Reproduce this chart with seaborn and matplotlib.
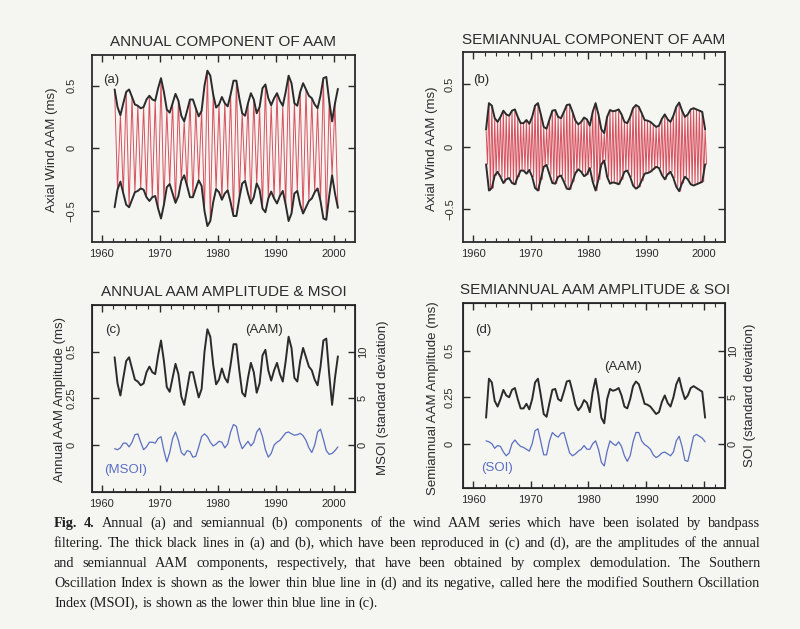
import numpy as np
import matplotlib
matplotlib.use("Agg")
import matplotlib.pyplot as plt
import seaborn as sns

# sample times on a half-year grid
annual_years = np.arange(1962.25, 2001.0, 0.5)
semi_years = np.arange(1962.25, 2000.5, 0.5)

# amplitude of the annual AAM component (ms)
annual_amp = [0.47, 0.33, 0.265, 0.36, 0.45, 0.47, 0.41, 0.35, 0.34, 0.32,
              0.33, 0.39, 0.42, 0.39, 0.38, 0.48, 0.56, 0.45, 0.31, 0.285,
              0.36, 0.435, 0.38, 0.26, 0.215, 0.30, 0.39, 0.39, 0.32, 0.255,
              0.30, 0.50, 0.62, 0.58, 0.43, 0.325, 0.35, 0.41, 0.36, 0.335,
              0.43, 0.54, 0.54, 0.40, 0.28, 0.26, 0.36, 0.44, 0.39, 0.28,
              0.33, 0.48, 0.51, 0.40, 0.345, 0.40, 0.44, 0.38, 0.34, 0.45,
              0.58, 0.52, 0.36, 0.34, 0.45, 0.52, 0.47, 0.42, 0.40, 0.35,
              0.32, 0.42, 0.56, 0.57, 0.38, 0.215, 0.36, 0.475]

# modified SOI (standard deviations)
msoi = [-0.4, -0.5, -0.3, 0.2, 0.2, -0.2, 0.3, 1.1, 1.2, 0.3,
        -0.5, -0.2, 0.3, 0.3, 0.2, 0.7, 0.9, -0.6, -1.8, -0.8,
        0.7, 1.4, 0.5, -0.8, -1.1, -0.6, -0.7, -1.3, -1.2, -0.2,
        0.9, 1.2, 0.9, 0.3, -0.1, 0.1, 0.4, 0.3, -0.3, 0.1,
        1.4, 2.2, 2.0, 0.5, -0.4, 0.0, 0.4, -0.1, 0.3, 1.4,
        1.8, 0.9, -0.5, -1.3, -0.9, 0.0, 0.3, 0.5, 0.9, 1.3,
        1.4, 1.2, 1.05, 1.1, 1.25, 1.0, 0.5, -0.3, -0.8, 0.0,
        1.4, 1.7, 0.6, -0.6, -1.0, -0.9, -0.6, -0.2]

# amplitude of the semiannual AAM component (ms)
semi_amp = [0.14, 0.35, 0.33, 0.23, 0.20, 0.24, 0.29, 0.26, 0.25, 0.29,
            0.30, 0.24, 0.19, 0.19, 0.215, 0.185, 0.24, 0.33, 0.35, 0.26,
            0.16, 0.145, 0.22, 0.29, 0.295, 0.24, 0.23, 0.28, 0.335, 0.34,
            0.28, 0.21, 0.18, 0.20, 0.235, 0.22, 0.17, 0.28, 0.35, 0.26,
            0.14, 0.11, 0.24, 0.295, 0.285, 0.29, 0.30, 0.26, 0.20, 0.19,
            0.24, 0.31, 0.335, 0.32, 0.27, 0.215, 0.21, 0.20, 0.18, 0.16,
            0.17, 0.225, 0.26, 0.22, 0.20, 0.25, 0.32, 0.355, 0.29, 0.24,
            0.26, 0.30, 0.31, 0.30, 0.29, 0.28, 0.14]

# Southern Oscillation Index (standard deviations)
soi = [0.3, 0.2, 0.0, -0.5, -0.2, -0.3, -0.9, -1.3, -1.0, 0.0,
       0.4, 0.0, -0.3, -0.4, -0.6, -0.8, 0.0, 1.4, 1.6, 0.2,
       -1.2, -1.2, 0.3, 1.2, 0.9, 0.7, 1.1, 1.2, 0.1, -1.0,
       -1.3, -1.1, -0.8, -0.6, -0.2, -0.6, -0.6, 0.0, 0.3, -0.6,
       -2.0, -2.4, -0.8, 0.3, 0.0, -0.2, 0.2, -0.3, -1.3, -1.9,
       -1.3, 0.2, 1.2, 1.2, 0.3, -0.1, -0.3, -0.6, -1.2, -1.5,
       -1.3, -1.0, -0.9, -1.1, -1.3, -0.9, 0.3, 0.8, -0.3, -1.8,
       -1.9, -0.6, 0.8, 1.0, 0.8, 0.6, 0.2]

x_ticks = [1960, 1970, 1980, 1990, 2000]

caption_lines = [
    "Fig. 4.  Annual (a) and semiannual (b) components of the wind AAM series which have been isolated by bandpass",
    "filtering. The thick black lines in (a) and (b), which have been reproduced in (c) and (d), are the amplitudes of the annual",
    "and semiannual AAM components, respectively, that have been obtained by complex demodulation. The Southern",
    "Oscillation Index is shown as the lower thin blue line in (d) and its negative, called here the modified Southern Oscillation",
    "Index (MSOI), is shown as the lower thin blue line in (c).",
]

paper = "#f5f5f2"
ink = "#2b2b2b"
red = "#d8505e"
blue = "#5a6fc0"

sns.set_style("ticks")
plt.rcParams['font.family'] = ['Liberation Sans', 'DejaVu Sans']

W, H = 800, 629
fig = plt.figure(figsize=(W / 100, H / 100), dpi=100, facecolor=paper)


def box(left, top, right, bottom):
    return [left / W, 1 - bottom / H, (right - left) / W, (bottom - top) / H]


def frame(ax, ylim, yticks, ylabels, ypad):
    ax.set_facecolor(paper)
    ax.set_xlim(1958.3, 2003.7)
    ax.set_ylim(*ylim)
    ax.set_xticks(x_ticks)
    ax.set_xticks(np.arange(1960, 2004, 2), minor=True)
    ax.set_yticks(yticks)
    ax.set_yticklabels(ylabels, rotation=90, va='center')
    ax.tick_params(which='major', direction='in', top=True, length=5, width=1,
                   color=ink, labelcolor=ink, labelsize=8)
    ax.tick_params(which='minor', direction='in', top=True, bottom=True, length=3, width=0.8, color=ink)
    ax.tick_params(axis='x', pad=5)
    ax.tick_params(axis='y', pad=ypad)
    for s in ax.spines.values():
        s.set_linewidth(1.3)
        s.set_color(ink)
        s.set_visible(True)
    ax.set_xlabel('')
    ax.set_ylabel('')


def ftext(x, y, s, **kw):
    kw.setdefault('ha', 'center')
    kw.setdefault('va', 'center')
    kw.setdefault('color', ink)
    fig.text(x / W, 1 - y / H, s, **kw)


amp_a = np.array(annual_amp)
amp_b = np.array(semi_amp)

# ---- (a) annual component
ax_a = fig.add_axes(box(91.7, 55, 355, 241.7))
sign = np.where(np.arange(len(annual_years)) % 2 == 0, 1, -1)
sns.lineplot(x=annual_years, y=amp_a * sign, ax=ax_a, color=red, linewidth=0.7)
sns.lineplot(x=annual_years, y=amp_a, ax=ax_a, color=ink, linewidth=1.4)
sns.lineplot(x=annual_years, y=-amp_a, ax=ax_a, color=ink, linewidth=1.4)
frame(ax_a, (-0.745, 0.745), [-0.5, 0, 0.5], ['\u22120.5', '0', '0.5'], 11)
ax_a.tick_params(right=True)
ax_a.text(0.043, 0.866, '(a)', transform=ax_a.transAxes, fontsize=9.5, color=ink, va='center')

# ---- (b) semiannual component
ax_b = fig.add_axes(box(463.3, 52, 725, 241.7))
zig_x = np.column_stack([semi_years, semi_years + 0.25]).ravel()
zig_y = np.column_stack([amp_b, -amp_b]).ravel()
sns.lineplot(x=zig_x, y=zig_y, ax=ax_b, color=red, linewidth=0.7)
sns.lineplot(x=semi_years, y=amp_b, ax=ax_b, color=ink, linewidth=1.4)
sns.lineplot(x=semi_years, y=-amp_b, ax=ax_b, color=ink, linewidth=1.4)
frame(ax_b, (-0.76, 0.76), [-0.5, 0, 0.5], ['\u22120.5', '0', '0.5'], 6)
ax_b.tick_params(right=True)
ax_b.text(0.037, 0.85, '(b)', transform=ax_b.transAxes, fontsize=9.5, color=ink, va='center')

# ---- (c) annual amplitude & MSOI
ax_c = fig.add_axes(box(91.7, 305, 355, 491.7))
sns.lineplot(x=annual_years, y=amp_a, ax=ax_c, color=ink, linewidth=1.4)
frame(ax_c, (-0.25, 0.75), [0, 0.25, 0.5], ['0', '0.25', '0.5'], 11)
ax_c.tick_params(right=False)
axr_c = ax_c.twinx()
sns.lineplot(x=annual_years, y=msoi, ax=axr_c, color=blue, linewidth=0.9)
axr_c.set_ylim(-5, 15)
axr_c.set_yticks([0, 5, 10])
axr_c.set_yticklabels(['0', '5', '10'], rotation=90, va='center')
axr_c.tick_params(direction='in', length=5, width=1, color=ink, labelcolor=ink, labelsize=8, pad=2)
axr_c.set_ylabel('')
ax_c.text(0.05, 0.866, '(c)', transform=ax_c.transAxes, fontsize=9.5, color=ink, va='center')
ax_c.text(0.654, 0.866, '(AAM)', transform=ax_c.transAxes, fontsize=9.5, color=ink, ha='center', va='center')
ax_c.text(0.13, 0.116, '(MSOI)', transform=ax_c.transAxes, fontsize=9.5, color=blue, ha='center', va='center')

# ---- (d) semiannual amplitude & SOI
ax_d = fig.add_axes(box(463.3, 303.3, 725, 488.3))
sns.lineplot(x=semi_years, y=amp_b, ax=ax_d, color=ink, linewidth=1.4)
frame(ax_d, (-0.24, 0.756), [0, 0.25, 0.5], ['0', '0.25', '0.5'], 6)
ax_d.tick_params(right=False)
axr_d = ax_d.twinx()
sns.lineplot(x=semi_years, y=soi, ax=axr_d, color=blue, linewidth=0.9)
axr_d.set_ylim(-4.8, 15.1)
axr_d.set_yticks([0, 5, 10])
axr_d.set_yticklabels(['0', '5', '10'], rotation=90, va='center')
axr_d.tick_params(direction='in', length=5, width=1, color=ink, labelcolor=ink, labelsize=8, pad=2)
axr_d.set_ylabel('')
ax_d.text(0.045, 0.856, '(d)', transform=ax_d.transAxes, fontsize=9.5, color=ink, va='center')
ax_d.text(0.61, 0.657, '(AAM)', transform=ax_d.transAxes, fontsize=9.5, color=ink, ha='center', va='center')
ax_d.text(0.128, 0.108, '(SOI)', transform=ax_d.transAxes, fontsize=9.5, color=blue, ha='center', va='center')

# ---- titles and axis labels
ftext(222.5, 41.7, 'ANNUAL COMPONENT OF AAM', fontsize=11)
ftext(594, 40, 'SEMIANNUAL COMPONENT OF AAM', fontsize=11)
ftext(223.5, 291.7, 'ANNUAL AAM AMPLITUDE & MSOI', fontsize=11)
ftext(595, 290, 'SEMIANNUAL AAM AMPLITUDE & SOI', fontsize=11)
ftext(51.7, 150, 'Axial Wind AAM (ms)', fontsize=9.5, rotation=90)
ftext(431.7, 149, 'Axial Wind AAM (ms)', fontsize=9.5, rotation=90)
ftext(60, 400, 'Annual AAM Amplitude (ms)', fontsize=9.5, rotation=90)
ftext(433, 398.5, 'Semiannual AAM Amplitude (ms)', fontsize=9.5, rotation=90)
ftext(383, 397.5, 'MSOI (standard deviation)', fontsize=9.5, rotation=90)
ftext(750, 395.5, 'SOI (standard deviation)', fontsize=9.5, rotation=90)

# ---- caption, justified between x0 and x1
renderer = fig.canvas.get_renderer()
x0, x1 = 54, 760
serif = ['Liberation Serif', 'DejaVu Serif']
for i, line in enumerate(caption_lines):
    y_base = 527 + 20 * i
    words = line.split()
    texts = []
    for j, w in enumerate(words):
        bold = (i == 0 and j < 2)
        t = fig.text(0, 1 - y_base / H, w, fontsize=10.3, family=serif, color='#1e1e1e',
                     weight='bold' if bold else 'normal', va='baseline')
        texts.append(t)
    widths = [t.get_window_extent(renderer).width for t in texts]
    if i == len(caption_lines) - 1:
        gap = 3.3
    else:
        gap = (x1 - x0 - sum(widths)) / (len(words) - 1)
    x = x0
    for t, w in zip(texts, widths):
        t.set_x(x / W)
        x += w + gap

fig.savefig('out.png', dpi=100, facecolor=paper)
plt.close(fig)
